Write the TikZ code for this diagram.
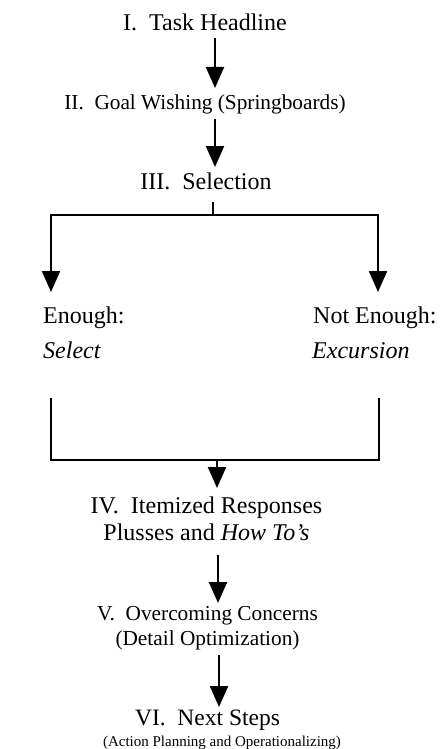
\documentclass[tikz,border=0pt]{standalone}
\usepackage{fontspec}
\setmainfont{Liberation Serif}
\usetikzlibrary{arrows.meta}
\begin{document}
\begin{tikzpicture}[x=1pt,y=-1pt,
  lbl/.style={inner sep=0pt,anchor=base},
  big/.style={font=\fontsize{24}{27}\selectfont},
  mid/.style={font=\fontsize{21.3}{25}\selectfont},
  sml/.style={font=\fontsize{15}{18}\selectfont},
  ln/.style={line width=2.2pt},
  arr/.style={ln,-{Triangle[width=18pt,length=21pt]}}]
\useasboundingbox (0,0) rectangle (442,749);
% texts
\node[lbl,big] (t1) at (205,31) {I.\ \ Task Headline};
\node[lbl,mid] (t2) at (205,110) {II.\ \ Goal Wishing (Springboards)};
\node[lbl,big] (t3) at (206,189) {III.\ \ Selection};
\node[lbl,big,anchor=base west] (en) at (43,323) {Enough:};
\node[lbl,big,anchor=base west] (sel) at (43,358) {\itshape Select};
\node[lbl,big,anchor=base west] (nen) at (313,323) {Not Enough:};
\node[lbl,big,anchor=base west] (exc) at (312,358) {\itshape Excursion};
\node[lbl,big] (t4) at (206.5,513) {IV.\ \ Itemized Responses};
\node[lbl,big] (t4b) at (206.5,540) {Plusses and \textit{How To's}};
\node[lbl,mid] (t5) at (207.5,620) {V.\ \ Overcoming Concerns};
\node[lbl,mid] (t5b) at (207.5,645) {(Detail Optimization)};
\node[lbl,font=\fontsize{23.5}{27}\selectfont] (t6) at (207.5,725) {VI.\ \ Next Steps};
\node[lbl,sml] (t6b) at (222,746) {(Action Planning and Operationalizing)};
% connector points
\coordinate (a1s) at (215,38);  \coordinate (a1e) at (215,88);
\coordinate (a2s) at (215,119); \coordinate (a2e) at (215,167);
\coordinate (sts) at (213,202); \coordinate (st) at (213,215);
\coordinate (lt) at (51,292);   \coordinate (rt) at (378,292);
\coordinate (lb) at (51,398);   \coordinate (rb) at (379,398);
\coordinate (jn) at (217,460);  \coordinate (a4e) at (217,488);
\coordinate (a5s) at (218,555); \coordinate (a5e) at (218,603);
\coordinate (a6s) at (219,655); \coordinate (a6e) at (219,707);
% connectors
\draw[arr] (a1s) -- (a1e);
\draw[arr] (a2s) -- (a2e);
\draw[ln] (sts) -- (st);
\draw[arr] (st) -| (lt);
\draw[arr] (st) -| (rt);
\draw[ln] (lb) |- (jn) -| (rb);
\draw[arr] (jn) -- (a4e);
\draw[arr] (a5s) -- (a5e);
\draw[arr] (a6s) -- (a6e);
\end{tikzpicture}
\end{document}
